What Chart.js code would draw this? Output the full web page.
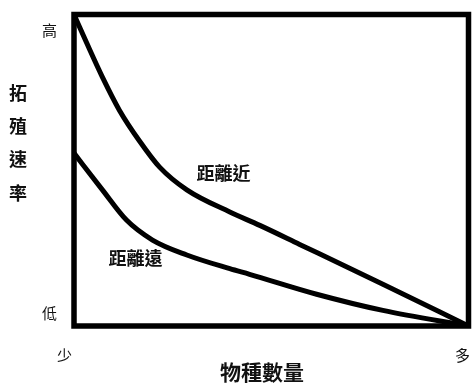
<!DOCTYPE html>
<html>
<head>
<meta charset="utf-8">
<script src="https://cdn.jsdelivr.net/npm/chart.js@4/dist/chart.umd.min.js"></script>
<style>
  body { margin: 0; background: #fff; }
</style>
</head>
<body>
<canvas id="c" width="475" height="385"></canvas>
<script>
// values (x: 0 = 少, 100 = 多; y: 0 = 低, 100 = 高)
var nearX = [0, 3.2, 7.2, 11.5, 16.6, 21.7, 28.6, 39.5, 47.1, 57.2, 78.3, 100];
var nearY = [100, 90.9, 79.9, 69.3, 59.4, 51.0, 43.7, 36.6, 32.3, 26.2, 13.4, 0];
var farX = [0, 7.2, 13.3, 19.9, 28.6, 39.5, 44.5, 61.5, 78.3, 100];
var farY = [55.5, 43.7, 34.0, 27.6, 22.8, 18.4, 16.6, 10.2, 5.0, 0];

var seriesNames = ['距離近', '距離遠'];
var nameX = [37.9, 15.6];
var nameY = [49.1, 21.8];

var xTickVals = [-2.4, 98.5];
var xTickLabels = ['少', '多'];
var yTickVals = [95, 4];
var yTickLabels = ['高', '低'];

var xTitle = '物種數量';
var yTitle = '拓殖速率';

var FONT = '"Noto Sans CJK TC", "Noto Sans CJK SC", sans-serif';

function pts(xs, ys) {
    var out = [];
    for (var i = 0; i < xs.length; i++) out.push({x: xs[i], y: ys[i]});
    return out;
}

function noPad(s) {
    s.paddingLeft = 0;
    s.paddingRight = 0;
    s.paddingTop = 0;
    s.paddingBottom = 0;
}

// box around the plot area, curve names, axis titles
var decor = {
    id: 'decor',
    afterDatasetsDraw: function(chart) {
        var ctx = chart.ctx, a = chart.chartArea;
        var xs = chart.scales.x, ys = chart.scales.y;
        ctx.save();
        ctx.strokeStyle = '#000';
        ctx.lineWidth = 5.5;
        ctx.strokeRect(a.left, a.top, a.right - a.left, a.bottom - a.top);

        ctx.fillStyle = '#111';
        ctx.textAlign = 'center';
        ctx.textBaseline = 'middle';
        ctx.font = 'bold 18px ' + FONT;
        for (var i = 0; i < seriesNames.length; i++) {
            ctx.fillText(seriesNames[i], xs.getPixelForValue(nameX[i]), ys.getPixelForValue(nameY[i]));
        }

        // y title, one character per line
        var chars = Array.from(yTitle);
        var step = 33.3;
        var mid = a.top + 128.5;
        for (var j = 0; j < chars.length; j++) {
            ctx.fillText(chars[j], 18, mid + (j - (chars.length - 1) / 2) * step);
        }

        // x title sits a bit left of the plot centre
        ctx.font = 'bold 21px ' + FONT;
        ctx.fillText(xTitle, a.left + 188, a.bottom + 46);
        ctx.restore();
    }
};

new Chart(document.getElementById('c'), {
    type: 'line',
    data: {
        datasets: [{
            label: seriesNames[0],
            data: pts(nearX, nearY),
            borderColor: '#000',
            borderWidth: 5,
            pointRadius: 0,
            cubicInterpolationMode: 'monotone'
        }, {
            label: seriesNames[1],
            data: pts(farX, farY),
            borderColor: '#000',
            borderWidth: 5,
            pointRadius: 0,
            cubicInterpolationMode: 'monotone'
        }]
    },
    options: {
        responsive: false,
        animation: false,
        layout: { padding: { left: 0, top: 14.5, right: 6.5, bottom: 0 } },
        plugins: { legend: { display: false }, tooltip: { enabled: false } },
        scales: {
            x: {
                type: 'linear',
                min: 0,
                max: 100,
                grid: { display: false, drawTicks: false },
                border: { display: false },
                afterBuildTicks: function(s) { s.ticks = xTickVals.map(function(v) { return {value: v}; }); },
                afterFit: function(s) { s.height = 59; noPad(s); },
                ticks: {
                    padding: 20,
                    color: '#111',
                    font: { family: FONT, size: 15 },
                    maxRotation: 0,
                    autoSkip: false,
                    callback: function(v, i) { return xTickLabels[i]; }
                }
            },
            y: {
                min: 0,
                max: 100,
                grid: { display: false, drawTicks: false },
                border: { display: false },
                afterBuildTicks: function(s) { s.ticks = yTickVals.map(function(v) { return {value: v}; }); },
                afterFit: function(s) { s.width = 74; noPad(s); },
                ticks: {
                    padding: 17,
                    color: '#111',
                    font: { family: FONT, size: 15 },
                    autoSkip: false,
                    callback: function(v, i) { return yTickLabels[i]; }
                }
            }
        }
    },
    plugins: [decor]
});
</script>
</body>
</html>
